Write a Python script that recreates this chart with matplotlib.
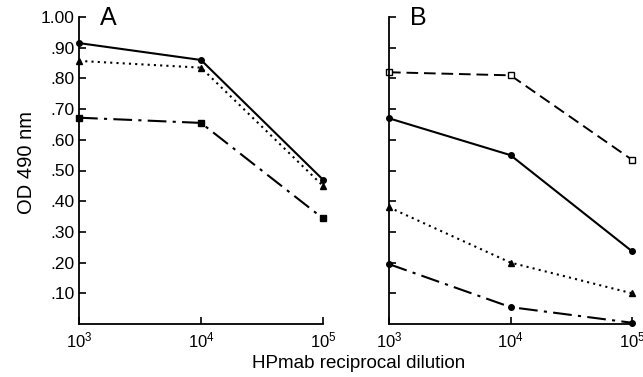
import matplotlib
matplotlib.use("Agg")
import matplotlib.pyplot as plt

plt.rcParams['font.family'] = ['Liberation Sans', 'DejaVu Sans']
plt.rcParams['mathtext.fontset'] = 'custom'
plt.rcParams['mathtext.rm'] = 'Liberation Sans'
plt.rcParams['mathtext.it'] = 'Liberation Sans'

dilution = [1e3, 1e4, 1e5]
x_ticklabels = [r'$\mathrm{10^3}$', r'$\mathrm{10^4}$', r'$\mathrm{10^5}$']
y_ticks = [0.1, 0.2, 0.3, 0.4, 0.5, 0.6, 0.7, 0.8, 0.9, 1.0]
y_ticklabels = ['.10', '.20', '.30', '.40', '.50', '.60', '.70', '.80', '.90', '1.00']

# Panel A
a_solid = [0.915, 0.86, 0.47]
a_dotted = [0.857, 0.835, 0.45]
a_dashdot = [0.672, 0.655, 0.344]

# Panel B
b_dashed = [0.82, 0.81, 0.535]
b_solid = [0.67, 0.55, 0.237]
b_dotted = [0.38, 0.20, 0.10]
b_dashdot = [0.195, 0.055, 0.004]

W, H = 643, 377
fig = plt.figure(figsize=(W / 100, H / 100), dpi=100)

def px(l, r, t, b):
    return [l / W, 1 - b / H, (r - l) / W, (b - t) / H]

axA = fig.add_axes(px(79, 323, 17, 324))
axB = fig.add_axes(px(389, 632, 17, 324))

dashdot = (0, (9, 3, 1.5, 3))
dotted = (0, (1, 2))

def style(ax, labels):
    ax.set_xscale('log')
    ax.set_xlim(1e3, 1e5)
    ax.set_ylim(0, 1.0)
    ax.spines['top'].set_visible(False)
    ax.spines['right'].set_visible(False)
    for s in ['left', 'bottom']:
        ax.spines[s].set_linewidth(1.3)
    ax.set_xticks(dilution)
    ax.set_xticklabels(x_ticklabels, fontsize=12)
    ax.xaxis.set_minor_locator(matplotlib.ticker.NullLocator())
    ax.set_yticks(y_ticks)
    if labels:
        ax.set_yticklabels(y_ticklabels, fontsize=12.5)
    else:
        ax.set_yticklabels([])
    ax.tick_params(direction='in', length=5, width=1.2, pad=3)
    ax.tick_params(axis='x', pad=5)
    for sp in ax.spines.values():
        sp.set_clip_on(False)

style(axA, True)
style(axB, False)

kw = dict(color='black', clip_on=False, markersize=4)
axA.plot(dilution, a_solid, '-', marker='o', lw=1.5, **kw)
axA.plot(dilution, a_dotted, linestyle=dotted, marker='^', lw=1.5, **kw)
axA.plot(dilution, a_dashdot, linestyle=dashdot, marker='s', lw=1.5, **kw)

axB.plot(dilution, b_dashed, linestyle=(0, (6, 3)), marker='s', mfc='white', lw=1.4, **kw)
axB.plot(dilution, b_solid, '-', marker='o', lw=1.5, **kw)
axB.plot(dilution, b_dotted, linestyle=dotted, marker='^', lw=1.5, **kw)
axB.plot(dilution, b_dashdot, linestyle=dashdot, marker='o', lw=1.5, **kw)

fig.text(100 / W, 1 - 18 / H, 'A', fontsize=18, ha='left', va='center')
fig.text(410 / W, 1 - 18 / H, 'B', fontsize=18, ha='left', va='center')
fig.text(27 / W, 1 - 162 / H, 'OD 490 nm', rotation=90, fontsize=14.5, ha='center', va='center')
fig.text(359 / W, 1 - 363 / H, 'HPmab reciprocal dilution', fontsize=13.5, ha='center', va='center')

fig.savefig('out.png', dpi=100)
